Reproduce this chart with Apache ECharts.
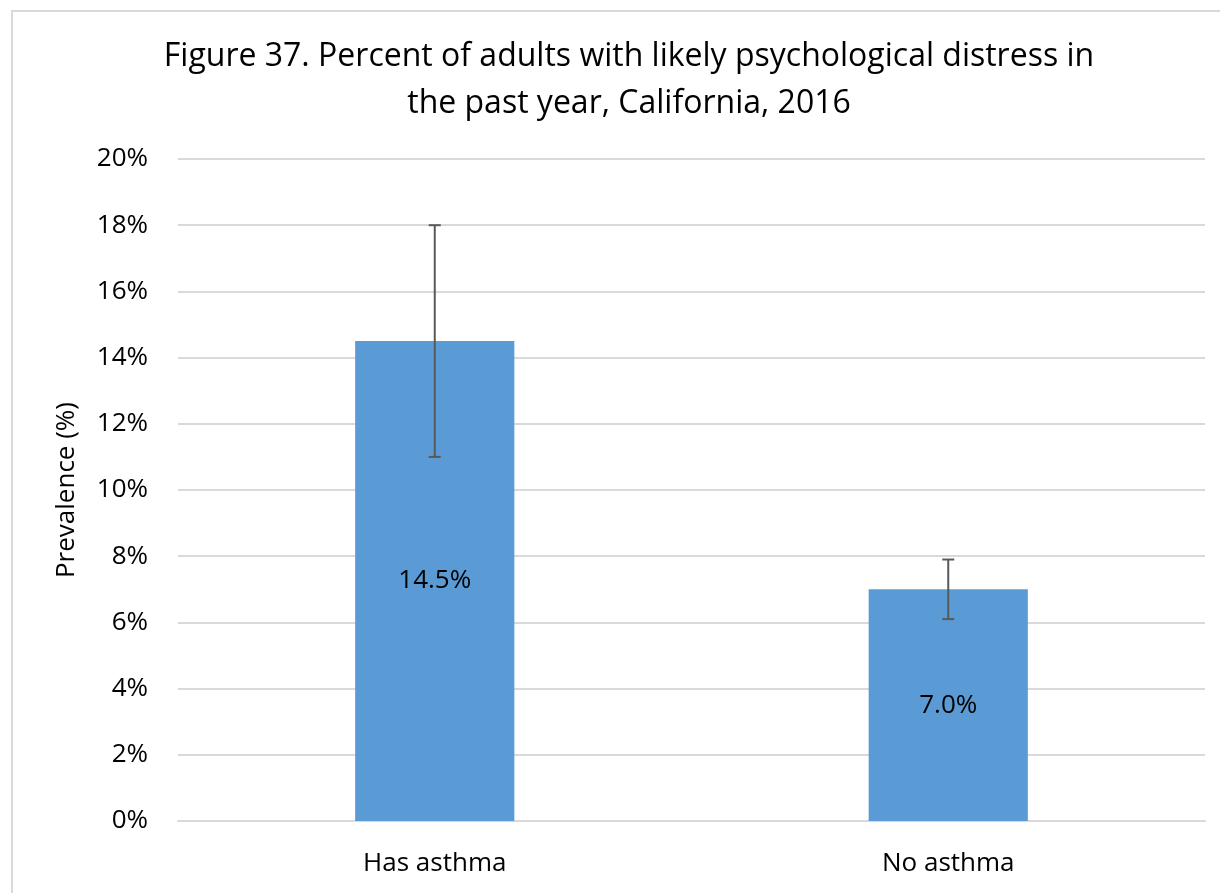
<!DOCTYPE html>
<html><head><meta charset="utf-8">
<script src="https://cdn.jsdelivr.net/npm/echarts@6/dist/echarts.min.js"></script>
<style>html,body{margin:0;padding:0;background:#fff}#c{width:1220px;height:893px}</style>
</head><body><div id="c"></div>
<script>
const categories = ['Has asthma', 'No asthma'];
const values = [14.5, 7.0];
const lower = [11.0, 6.1];
const upper = [18.0, 7.9];
const titleText = 'Figure 37. Percent of adults with likely psychological distress in\nthe past year, California, 2016';
const yAxisName = 'Prevalence (%)';

const FONT = '"Open Sans", sans-serif';
const chart = echarts.init(document.getElementById('c'));
chart.setOption({
  animation: false,
  graphic: [{
    type: 'polyline', silent: true,
    shape: { points: [[12, 900], [12, 11], [1230, 11]] },
    style: { stroke: '#d9d9d9', lineWidth: 2, fill: null }
  }],
  title: {
    text: titleText, left: 624, textAlign: 'center', top: 28,
    textStyle: { fontFamily: FONT, fontSize: 32, fontWeight: 'normal', color: '#000', lineHeight: 47 }
  },
  grid: { left: 178, right: 15, top: 159, bottom: 72 },
  xAxis: {
    type: 'category', data: categories,
    axisLine: { lineStyle: { color: '#d9d9d9', width: 2 } },
    axisTick: { show: false },
    axisLabel: { fontFamily: FONT, fontSize: 26, color: '#000', margin: 30 }
  },
  yAxis: {
    type: 'value', min: 0, max: 20, interval: 2,
    name: yAxisName, nameLocation: 'middle', nameGap: 98, nameRotate: 90,
    nameTextStyle: { fontFamily: FONT, fontSize: 26, color: '#000' },
    axisLabel: { formatter: '{value}%', fontFamily: FONT, fontSize: 26, color: '#000', margin: 30 },
    splitLine: { lineStyle: { color: '#d9d9d9', width: 2 } },
    axisLine: { show: false }, axisTick: { show: false }
  },
  series: [{
    type: 'bar', data: values, barWidth: '31%',
    itemStyle: { color: '#5b9bd5' },
    label: { show: true, position: 'inside', formatter: p => p.value.toFixed(1) + '%',
      fontFamily: FONT, fontSize: 26, color: '#000' }
  }, {
    type: 'custom', z: 10,
    data: categories.map((c, i) => [i, lower[i], upper[i]]),
    renderItem: function (params, api) {
      const lo = api.coord([api.value(0), api.value(1)]);
      const hi = api.coord([api.value(0), api.value(2)]);
      const w = 6;
      const st = { stroke: '#595959', lineWidth: 2 };
      return { type: 'group', children: [
        { type: 'line', shape: { x1: hi[0], y1: hi[1], x2: lo[0], y2: lo[1] }, style: st },
        { type: 'line', shape: { x1: hi[0] - w, y1: hi[1], x2: hi[0] + w, y2: hi[1] }, style: st },
        { type: 'line', shape: { x1: lo[0] - w, y1: lo[1], x2: lo[0] + w, y2: lo[1] }, style: st }
      ]};
    }
  }]
});
</script></body></html>
